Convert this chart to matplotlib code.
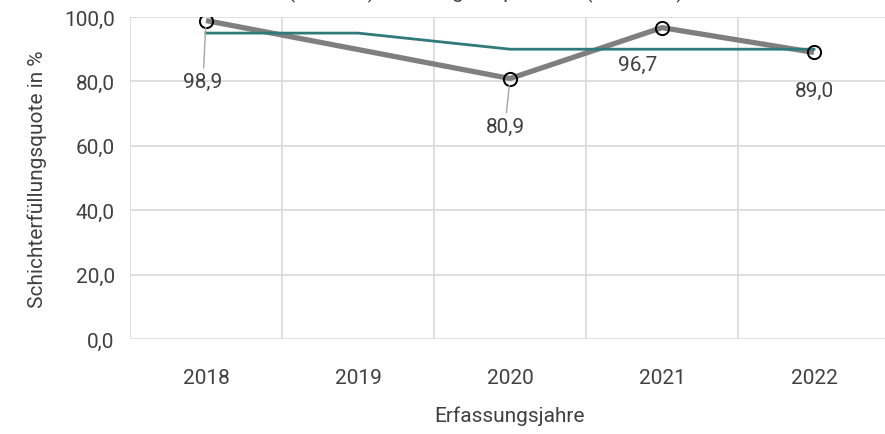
import numpy as np
import matplotlib
matplotlib.use("Agg")
import matplotlib.pyplot as plt
from matplotlib.ticker import FixedLocator, FuncFormatter

plt.rcParams['font.family'] = ['Roboto', 'DejaVu Sans']

years = ["2018", "2019", "2020", "2021", "2022"]
ist_values = [98.9, np.nan, 80.9, 96.7, 89.0]      # 2019 not recorded
soll_values = [95.0, 95.0, 90.0, 90.0, 90.0]
y_ticks = [0, 20, 40, 60, 80, 100]
title_text = "(Ist-Wert) und Vorgabe pro Jahr (Soll-Wert)"
ylabel_text = "Schichterfüllungsquote in %"
xlabel_text = "Erfassungsjahre"

txt = '#404040'
grid_c = '#d9d9d9'
gray = '#7f7f7f'
teal = '#317a7c'
FS = 15

W, H = 885, 435
fig = plt.figure(figsize=(W / 100, H / 100), dpi=100)
ax = fig.add_axes([130 / W, 1 - 340 / H, 760 / W, 322 / H])

x = np.arange(len(years))
ist = np.array(ist_values, dtype=float)
valid = ~np.isnan(ist)

ax.plot(x[valid], ist[valid], color=gray, lw=3.8, solid_capstyle='butt', zorder=3)
ax.plot(x, soll_values, color=teal, lw=2.0, zorder=4)
ax.plot(x[valid], ist[valid], ls='none', marker='o', ms=9.5, mfc='none',
        mec='black', mew=1.4, zorder=5)

# data labels (offsets in pixels)
offsets = {0: (-3, -61, True), 2: (-5, -48, True), 3: (-24, -37, False), 4: (0, -38, False)}
for i, (dx, dy, leader) in offsets.items():
    label = f"{ist[i]:.1f}".replace('.', ',')
    kw = {}
    if leader:
        kw['arrowprops'] = dict(arrowstyle='-', color='#a6a6a6', lw=1.0,
                                shrinkA=1, shrinkB=5)
    ax.annotate(label, xy=(x[i], ist[i]), xytext=(dx, dy), textcoords='offset pixels',
                ha='center', va='center', fontsize=FS, color=txt, zorder=6, **kw)

ax.set_xlim(-0.5, len(years) - 0.5)
ax.set_ylim(0, 100)
ax.yaxis.set_major_locator(FixedLocator(y_ticks))
ax.yaxis.set_major_formatter(FuncFormatter(lambda v, p: f"{v:.1f}".replace('.', ',')))
ax.set_xticks(x)
ax.set_xticklabels(years)
ax.xaxis.set_minor_locator(FixedLocator(np.arange(-0.5, len(years), 1.0)))

ax.grid(axis='y', which='major', color=grid_c, lw=1.2, zorder=0)
ax.grid(axis='x', which='minor', color=grid_c, lw=1.2, zorder=0)
ax.grid(axis='x', which='major', visible=False)
for s in ax.spines.values():
    s.set_visible(False)
ax.tick_params(axis='both', which='both', length=0, labelsize=FS, colors=txt)
ax.tick_params(axis='x', pad=21)
ax.tick_params(axis='y', pad=11)

ax.set_ylabel(ylabel_text, fontsize=FS, color=txt, labelpad=12)
ax.set_xlabel(xlabel_text, fontsize=FS, color=txt, labelpad=13)

fig.text(486 / W, 1 + 1.5 / H, title_text, ha='center', va='baseline',
         fontsize=FS, color=txt)

fig.savefig("out.png", dpi=100)
